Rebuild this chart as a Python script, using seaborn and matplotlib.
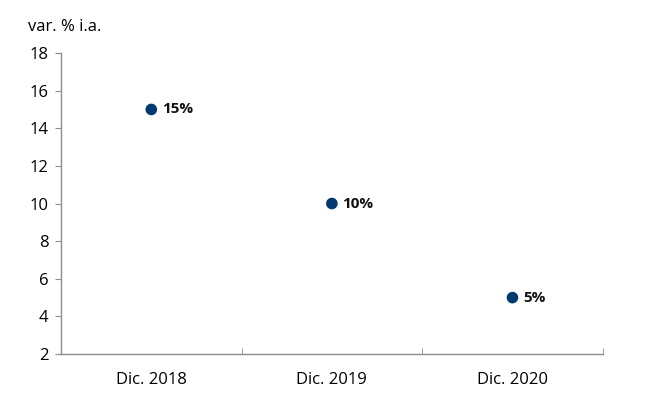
import matplotlib
matplotlib.use("Agg")
import matplotlib.pyplot as plt
import seaborn as sns
import pandas as pd
from matplotlib.ticker import FixedLocator

# data
periods = ["Dic. 2018", "Dic. 2019", "Dic. 2020"]
values = [15, 10, 5]
labels = ["15%", "10%", "5%"]

sns.set_style("white")
plt.rcParams["font.family"] = ["Open Sans", "DejaVu Sans"]

df = pd.DataFrame({"periodo": periods, "valor": values})

fig = plt.figure(figsize=(6.66, 4.19), dpi=100)
ax = fig.add_axes([0.0916, 0.155, 0.8134, 0.7185])

sns.scatterplot(data=df, x="periodo", y="valor", ax=ax, color="#003A70",
                s=70, edgecolor="none", legend=False, zorder=3)

for i, (v, lab) in enumerate(zip(values, labels)):
    ax.annotate(lab, (i, v), xytext=(7.5, 0), textcoords="offset points",
                va="center", ha="left", fontsize=11, fontweight="bold",
                color="#111111")

ax.set_xlim(-0.5, 2.5)
ax.set_ylim(2, 18)
ax.set_yticks(range(2, 19, 2))
ax.set_xlabel("")
ax.set_ylabel("")

for side in ["top", "right"]:
    ax.spines[side].set_visible(False)
for side in ["left", "bottom"]:
    ax.spines[side].set_color("#8c8c8c")
    ax.spines[side].set_linewidth(1.0)

ax.tick_params(axis="y", which="major", direction="out", length=4,
               color="#8c8c8c", labelsize=12, labelcolor="black", pad=5,
               left=True)
ax.tick_params(axis="x", which="major", length=0, labelsize=12,
               labelcolor="black", pad=13)
ax.xaxis.set_minor_locator(FixedLocator([0.5, 1.5, 2.5]))
ax.tick_params(axis="x", which="minor", direction="in", length=4,
               color="#8c8c8c", bottom=True)

fig.text(0.042, 0.935, "var. % i.a.", fontsize=12, ha="left", va="center",
         color="black")

fig.savefig("out.png", dpi=100)
